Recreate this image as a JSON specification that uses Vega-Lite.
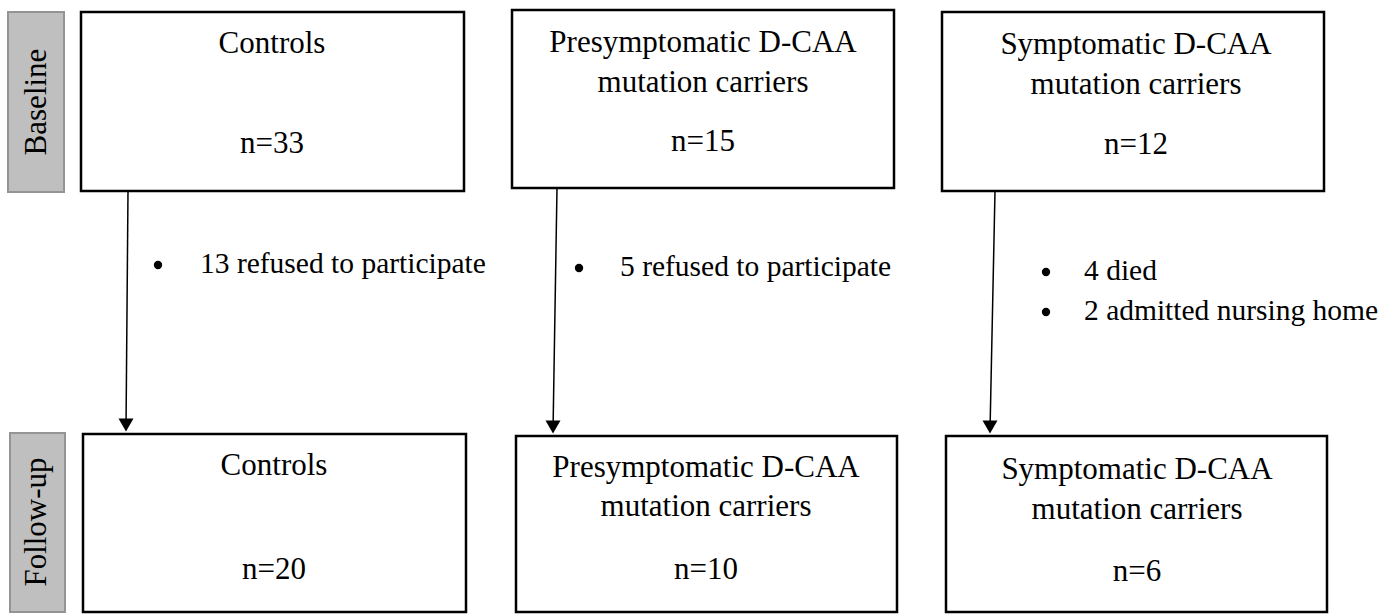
{
  "$schema": "https://vega.github.io/schema/vega-lite/v6.json",
  "width": 1384,
  "height": 614,
  "padding": 0,
  "autosize": {"type": "none"},
  "background": "white",
  "config": {"view": {"stroke": null}},
  "datasets": {
    "stages": [
      {"stage": "Baseline", "x0": 8, "x1": 64, "y0": 12, "y1": 192, "cy": 102},
      {"stage": "Follow-up", "x0": 10, "x1": 65, "y0": 433, "y1": 612, "cy": 522}
    ],
    "boxes": [
      {"box": "b1", "x0": 81, "x1": 464, "y0": 12, "y1": 191},
      {"box": "b2", "x0": 512, "x1": 894, "y0": 10, "y1": 188},
      {"box": "b3", "x0": 942, "x1": 1324, "y0": 12, "y1": 191},
      {"box": "f1", "x0": 83, "x1": 466, "y0": 434, "y1": 612},
      {"box": "f2", "x0": 516, "x1": 897, "y0": 436, "y1": 612},
      {"box": "f3", "x0": 946, "x1": 1327, "y0": 436, "y1": 612}
    ],
    "arrows": [
      {"group": "Controls", "xa": 128, "ya": 191, "xb": 126, "yb": 430, "tipy": 425},
      {"group": "Presymptomatic", "xa": 557, "ya": 188, "xb": 553, "yb": 432, "tipy": 427},
      {"group": "Symptomatic", "xa": 995, "ya": 191, "xb": 990, "yb": 432, "tipy": 427}
    ],
    "labels": [
      {"text": "Controls", "x": 272, "y": 53},
      {"text": "n=33", "x": 272, "y": 153},
      {"text": "Presymptomatic D-CAA", "x": 703, "y": 52},
      {"text": "mutation carriers", "x": 703, "y": 92},
      {"text": "n=15", "x": 703, "y": 151},
      {"text": "Symptomatic D-CAA", "x": 1136, "y": 54},
      {"text": "mutation carriers", "x": 1136, "y": 94},
      {"text": "n=12", "x": 1136, "y": 154},
      {"text": "Controls", "x": 274, "y": 475},
      {"text": "n=20", "x": 274, "y": 579},
      {"text": "Presymptomatic D-CAA", "x": 706, "y": 477},
      {"text": "mutation carriers", "x": 706, "y": 516},
      {"text": "n=10", "x": 706, "y": 579},
      {"text": "Symptomatic D-CAA", "x": 1137, "y": 479},
      {"text": "mutation carriers", "x": 1137, "y": 519},
      {"text": "n=6", "x": 1137, "y": 581}
    ],
    "bullets": [
      {"text": "13 refused to participate", "bx": 158, "by": 265, "tx": 200, "ty": 273},
      {"text": "5 refused to participate", "bx": 579, "by": 268, "tx": 620, "ty": 276},
      {"text": "4 died", "bx": 1046, "by": 272, "tx": 1084, "ty": 280},
      {"text": "2 admitted nursing home", "bx": 1046, "by": 312, "tx": 1084, "ty": 320}
    ]
  },
  "layer": [
    {
      "data": {"name": "stages"},
      "mark": {"type": "rect", "fill": "#bfbfbf", "stroke": "#949494", "strokeWidth": 2},
      "encoding": {
        "x": {"field": "x0", "type": "quantitative", "scale": {"domain": [0, 1384], "nice": false, "zero": false}, "axis": null},
        "x2": {"field": "x1"},
        "y": {"field": "y0", "type": "quantitative", "scale": {"domain": [0, 614], "nice": false, "zero": false, "reverse": true}, "axis": null},
        "y2": {"field": "y1"}
      }
    },
    {
      "data": {"name": "stages"},
      "mark": {"type": "text", "font": "'Liberation Serif', 'Times New Roman', serif", "fontSize": 31, "angle": 270, "align": "center", "baseline": "middle", "color": "black"},
      "encoding": {
        "x": {"datum": 37, "type": "quantitative"},
        "y": {"field": "cy", "type": "quantitative"},
        "text": {"field": "stage"}
      }
    },
    {
      "data": {"name": "boxes"},
      "mark": {"type": "rect", "fill": "white", "stroke": "black", "strokeWidth": 2.5},
      "encoding": {
        "x": {"field": "x0", "type": "quantitative"},
        "x2": {"field": "x1"},
        "y": {"field": "y0", "type": "quantitative"},
        "y2": {"field": "y1"}
      }
    },
    {
      "data": {"name": "arrows"},
      "mark": {"type": "rule", "color": "black", "strokeWidth": 1.5},
      "encoding": {
        "x": {"field": "xa", "type": "quantitative"},
        "y": {"field": "ya", "type": "quantitative"},
        "x2": {"field": "xb"},
        "y2": {"field": "yb"}
      }
    },
    {
      "data": {"name": "arrows"},
      "mark": {"type": "point", "shape": "triangle-down", "filled": true, "color": "black", "opacity": 1, "size": 225},
      "encoding": {
        "x": {"field": "xb", "type": "quantitative"},
        "y": {"field": "tipy", "type": "quantitative"}
      }
    },
    {
      "data": {"name": "bullets"},
      "mark": {"type": "point", "shape": "circle", "filled": true, "color": "black", "opacity": 1, "size": 70},
      "encoding": {
        "x": {"field": "bx", "type": "quantitative"},
        "y": {"field": "by", "type": "quantitative"}
      }
    },
    {
      "data": {"name": "bullets"},
      "mark": {"type": "text", "font": "'Liberation Serif', 'Times New Roman', serif", "fontSize": 29.5, "align": "left", "baseline": "alphabetic", "color": "black"},
      "encoding": {
        "x": {"field": "tx", "type": "quantitative"},
        "y": {"field": "ty", "type": "quantitative"},
        "text": {"field": "text"}
      }
    },
    {
      "data": {"name": "labels"},
      "mark": {"type": "text", "font": "'Liberation Serif', 'Times New Roman', serif", "fontSize": 31, "align": "center", "baseline": "alphabetic", "color": "black"},
      "encoding": {
        "x": {"field": "x", "type": "quantitative"},
        "y": {"field": "y", "type": "quantitative"},
        "text": {"field": "text"}
      }
    }
  ]
}
